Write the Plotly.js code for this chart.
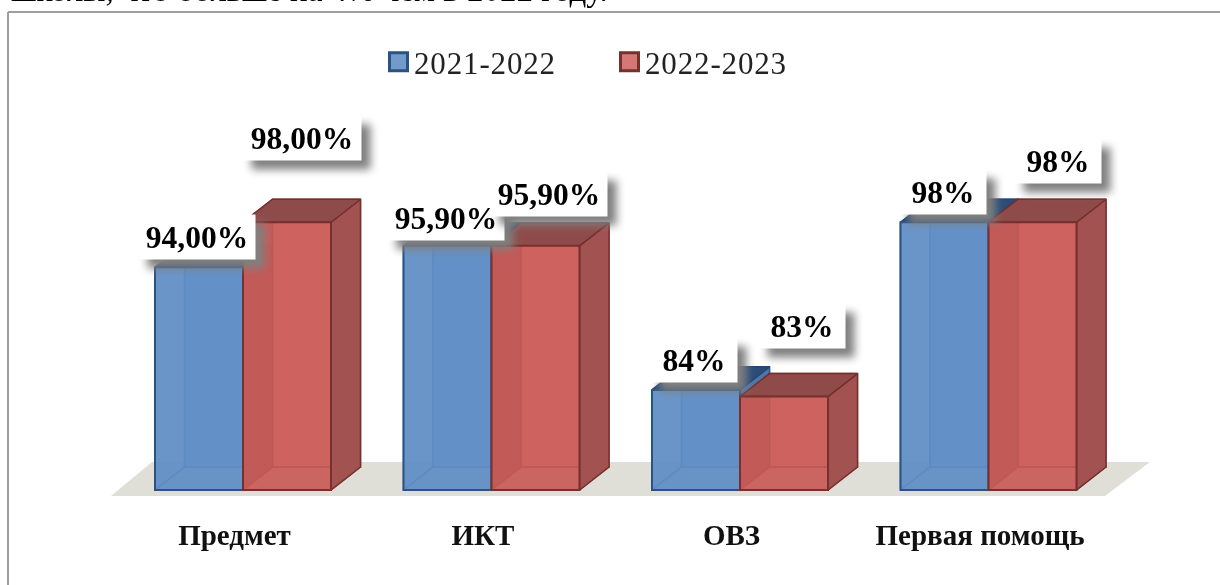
<!DOCTYPE html>
<html>
<head>
<meta charset="utf-8">
<script src="https://cdn.plot.ly/plotly-3.0.1.min.js"></script>
<style>
html,body{margin:0;padding:0;background:#fff;overflow:hidden}
#chart{width:1220px;height:585px;filter:blur(0.45px)}
</style>
</head>
<body>
<div id="chart"></div>
<script>
const categories = ['Предмет', 'ИКТ', 'ОВЗ', 'Первая помощь'];
const seriesNames = ['2021-2022', '2022-2023'];
const values2021 = [94, 95.9, 83.1, 98];
const values2022 = [98, 95.9, 82.5, 98];
const labels2021 = ['94,00%', '95,90%', '84%', '98%'];
const labels2022 = ['98,00%', '95,90%', '83%', '98%'];
const labelShift2021 = [[-2, 30, 116], [-2, 28, 116], [-2, 30, 86], [-2, 30, 86]];
const labelShift2022 = [[15, 84, 118], [13, 52, 116], [18, 71, 86], [25, 61, 86]];
const topLine = 'школы, что больше на 4% чем в 2022 году.';

const W = 1220, H = 585, plotH = 515;
const xUnit = 248.5, yUnit = 11.25, x0 = 243, yBase = 74.2;
const xRange = [-x0 / xUnit, (W - x0) / xUnit];
const yRange = [yBase - (plotH - 490) / yUnit, yBase + 490 / yUnit];
const barW = 88 / xUnit, depX = 29.5 / xUnit, depY = 23 / yUnit;
const SERIF = '"Liberation Serif", serif';

function polys(vals, s, face) {
  const xs = [], ys = [];
  vals.forEach((v, i) => {
    const l = i - barW + s * barW, r = l + barW, b = yBase, t = v;
    const shapes = {
      back:   [[l + depX, b + depY], [r + depX, b + depY], [r + depX, t + depY], [l + depX, t + depY]],
      left:   [[l, b], [l + depX, b + depY], [l + depX, t + depY], [l, t]],
      bottom: [[l, b], [r, b], [r + depX, b + depY], [l + depX, b + depY]],
      right:  [[r, b], [r + depX, b + depY], [r + depX, t + depY], [r, t]],
      top:    [[l, t], [r, t], [r + depX, t + depY], [l + depX, t + depY]]
    }[face];
    shapes.concat([shapes[0]]).forEach(p => { xs.push(p[0]); ys.push(p[1]); });
    xs.push(null); ys.push(null);
  });
  return {x: xs, y: ys};
}
function face(vals, s, name, fill, edge) {
  const p = polys(vals, s, name);
  return {type: 'scatter', mode: 'lines', x: p.x, y: p.y, fill: 'toself', fillcolor: fill,
    line: {color: edge, width: 1.5}, hoverinfo: 'skip', showlegend: false, connectgaps: false};
}
const floorTrace = {
  type: 'scatter', mode: 'lines', fill: 'toself', fillcolor: '#DFDFD7',
  line: {width: 0, color: '#DFDFD7'}, hoverinfo: 'skip', showlegend: false,
  x: [(111 - x0) / xUnit, (1105 - x0) / xUnit, (1150 - x0) / xUnit, (152 - x0) / xUnit],
  y: [yBase - 6 / yUnit, yBase - 6 / yUnit, yBase + 28 / yUnit, yBase + 28 / yUnit]
};
const blueEdge = 'rgba(45,90,140,0.85)', redEdge = 'rgba(115,45,43,0.9)';
const blueFaces = [
  face(values2021, 0, 'back',   'rgba(95,140,195,0.95)', blueEdge),
  face(values2021, 0, 'left',   'rgba(85,130,190,0.5)',  blueEdge),
  face(values2021, 0, 'bottom', 'rgba(85,130,190,0.5)',  blueEdge),
  face(values2021, 0, 'right',  'rgba(75,115,165,0.9)',  blueEdge),
  face(values2021, 0, 'top',    '#2B4C76', 'rgba(35,70,115,1)')
];
const redFaces = [
  face(values2022, 1, 'back',   'rgba(210,102,98,0.95)', redEdge),
  face(values2022, 1, 'left',   'rgba(150,50,48,0.9)',  redEdge),
  face(values2022, 1, 'bottom', 'rgba(170,70,66,0.6)',  redEdge),
  face(values2022, 1, 'right',  '#A25250', redEdge),
  face(values2022, 1, 'top',    '#8E4B49', redEdge)
];
function bars(name, vals, color, edge) {
  return {type: 'bar', name: name, x: categories.map((c, i) => i), y: vals.map(v => v - yBase),
    base: yBase, xaxis: 'x2', yaxis: 'y2', hoverinfo: 'skip',
    marker: {color: color, line: {color: edge, width: 2}}};
}
const traces = [floorTrace].concat(blueFaces, redFaces, [
  bars(seriesNames[0], values2021, 'rgba(99,144,198,0.9)', '#2A5384'),
  bars(seriesNames[1], values2022, 'rgba(203,96,93,0.85)', '#76302E')
]);
function ann(i, v, text, sh) {
  return {x: i, y: v, xref: 'x', yref: 'y', text: '<b>' + text + '</b>', showarrow: false,
    xshift: sh[0], yshift: sh[1], width: sh[2], height: 44,
    bgcolor: '#fff', align: 'center', valign: 'middle', borderpad: 0,
    font: {family: SERIF, size: 31.5, color: '#000'}};
}
const annotations = [];
values2021.forEach((v, i) => annotations.push(ann(i - barW / 2, v, labels2021[i], labelShift2021[i])));
values2022.forEach((v, i) => annotations.push(ann(i + barW / 2, v, labels2022[i], labelShift2022[i])));
annotations.push({xref: 'paper', yref: 'paper', x: 10 / W, y: (plotH - 9) / plotH, xanchor: 'left', yanchor: 'bottom',
  text: topLine, showarrow: false, borderpad: 0, font: {family: SERIF, size: 33, color: '#000'}});

const layout = {
  width: W, height: H, margin: {l: 0, r: 0, t: 0, b: H - plotH},
  paper_bgcolor: '#fff', plot_bgcolor: 'rgba(0,0,0,0)',
  barmode: 'group', bargap: 1 - 2 * barW, bargroupgap: 0,
  xaxis: {range: xRange, tickmode: 'array', tickvals: categories.map((c, i) => i - 8.5 / xUnit),
    ticktext: categories.map(c => '<b>' + c + '</b>'), showgrid: false, zeroline: false, showline: false,
    ticks: '', tickfont: {family: SERIF, size: 29, color: '#111'}},
  yaxis: {range: yRange, showgrid: false, zeroline: false, showline: false, showticklabels: false, ticks: ''},
  xaxis2: {range: xRange, overlaying: 'x', anchor: 'y2', visible: false},
  yaxis2: {range: yRange, overlaying: 'y', anchor: 'x2', visible: false},
  legend: {orientation: 'h', x: 374 / W, y: (plotH - 62) / plotH, xanchor: 'left', yanchor: 'middle',
    entrywidth: 186, entrywidthmode: 'pixels', font: {family: SERIF, size: 31, color: '#222'},
    bgcolor: 'rgba(0,0,0,0)'},
  showlegend: true,
  shapes: [
    {type: 'line', xref: 'paper', yref: 'paper', x0: 8 / W, x1: 1, y0: (plotH - 12) / plotH, y1: (plotH - 12) / plotH, line: {color: '#9E9E9E', width: 2}},
    {type: 'line', xref: 'paper', yref: 'paper', x0: 8 / W, x1: 8 / W, y0: (plotH - 12) / plotH, y1: (plotH - H) / plotH, line: {color: '#9E9E9E', width: 2}}
  ],
  annotations: annotations
};
Plotly.newPlot('chart', traces, layout, {displayModeBar: false, staticPlot: true}).then(gd => {
  gd.querySelectorAll('.annotation rect.bg').forEach((r, i) => {
    if (i < annotations.length - 1) r.style.filter = 'drop-shadow(9px 9px 4px #808080)';
  });
  gd.querySelectorAll('.legend .legendpoints path').forEach(p => {
    const t = p.getAttribute('transform') || '';
    p.setAttribute('transform', t + ' translate(4.5,0) scale(1.5)');
  });
  gd.querySelectorAll('.legend text.legendtext').forEach(t => { t.style.letterSpacing = '0.85px'; });
});
</script>
</body>
</html>
